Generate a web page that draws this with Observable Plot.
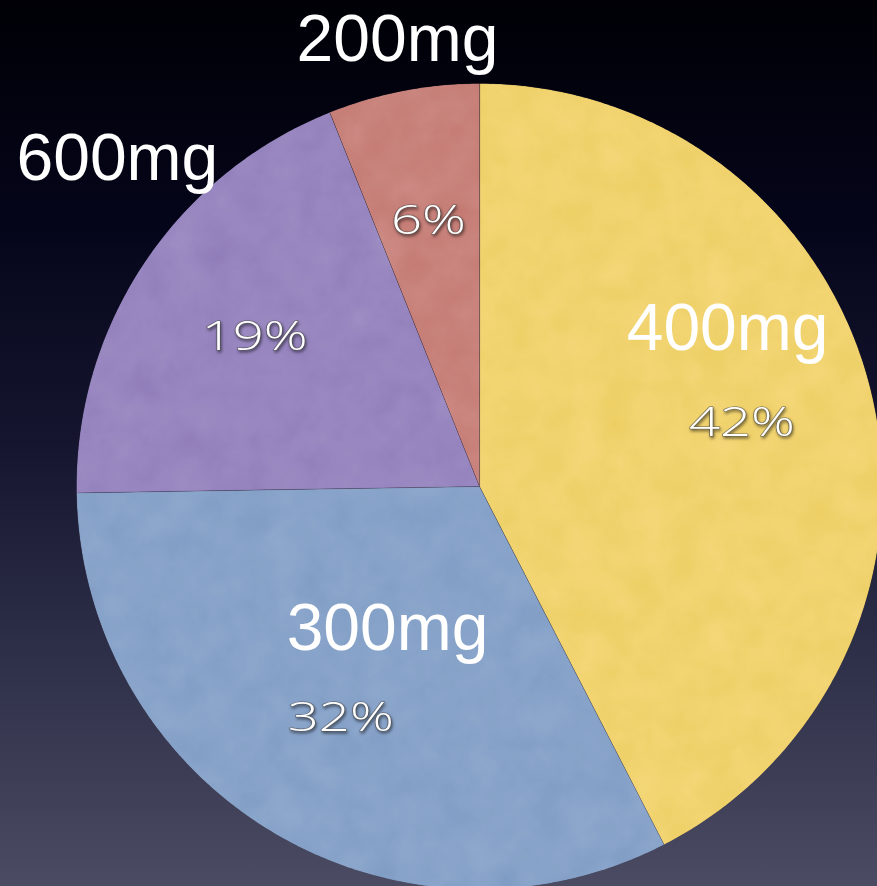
<!DOCTYPE html>
<html>
<head>
<meta charset="utf-8">
<script src="https://cdn.jsdelivr.net/npm/d3@7"></script>
<script src="https://cdn.jsdelivr.net/npm/@observablehq/plot@0.6"></script>
<style>
  html, body { margin: 0; padding: 0; width: 877px; height: 886px; overflow: hidden; }
  body {
    background: linear-gradient(to bottom, #000006 0%, #05051a 25%, #15152f 50%, #2f3049 75%, #4b4c63 100%);
  }
  #chart svg { display: block; background: transparent; }
</style>
</head>
<body>
<div id="chart"></div>
<script>
// Dose shares, clockwise from 12 o'clock
const doses = ["400mg", "300mg", "600mg", "200mg"];
const shares = [42, 32, 19, 6];
const sliceColors = ["#f1d36f", "#88a3c9", "#9786bf", "#c8827b"];

// Where each dose name sits: angle (deg, clockwise from top) and radius as a fraction of the pie radius
const nameAngles = [57.5, 212.9, 312.1, 349.6];
const nameRadii = [0.73, 0.42, 1.211, 1.127];

// Frame: pie centre and radius in pixels
const W = 877, H = 886, CX = 479, CY = 486, R = 403;

const pie = d3.pie().sort(null).value((d) => d.share);
const arcs = pie(doses.map((dose, i) => ({dose, share: shares[i]})));

// Outline of each slice: centre, then points along the arc
const outline = arcs.flatMap((a) => {
  const n = Math.max(2, Math.ceil((a.endAngle - a.startAngle) / (Math.PI / 360)));
  const pts = [{dose: a.data.dose, x: 0, y: 0}];
  for (let k = 0; k <= n; ++k) {
    const t = a.startAngle + (a.endAngle - a.startAngle) * k / n;
    pts.push({dose: a.data.dose, x: Math.sin(t), y: Math.cos(t)});
  }
  return pts;
});

const pctLabels = arcs.map((a) => {
  const m = (a.startAngle + a.endAngle) / 2;
  return {label: `${a.data.share}%`, x: 0.67 * Math.sin(m), y: 0.67 * Math.cos(m)};
});

const nameLabels = doses.map((dose, i) => {
  const t = nameAngles[i] * Math.PI / 180;
  return {label: dose, x: nameRadii[i] * Math.sin(t), y: nameRadii[i] * Math.cos(t)};
});

const chart = Plot.plot({
  width: W,
  height: H,
  margin: 0,
  style: {background: "transparent", overflow: "visible"},
  x: {domain: [-CX / R, (W - CX) / R], axis: null},
  y: {domain: [-(H - CY) / R, CY / R], axis: null},
  color: {domain: doses, range: sliceColors},
  marks: [
    Plot.line(outline, {
      x: "x", y: "y", z: "dose", fill: "dose",
      stroke: "#3a3040", strokeOpacity: 0.22, strokeWidth: 1,
      curve: "linear-closed"
    }),
    Plot.text(pctLabels, {
      x: "x", y: "y", text: "label",
      fill: "white", stroke: "#505050", strokeOpacity: 0.6, strokeWidth: 1.4,
      fontSize: 40, fontWeight: 300, fontFamily: "Open Sans, DejaVu Sans, sans-serif"
    }),
    Plot.text(nameLabels, {
      x: "x", y: "y", text: "label",
      fill: "white", fontSize: 66,
      fontFamily: "Liberation Sans, Arial, Helvetica, sans-serif"
    })
  ]
});

// Paper-like mottling on the slices and a soft shadow under the percentages
const svg = d3.select(chart);
const defs = svg.insert("defs", ":first-child");
const f = defs.append("filter").attr("id", "paper").attr("x", 0).attr("y", 0).attr("width", 1).attr("height", 1);
f.append("feTurbulence").attr("type", "fractalNoise").attr("baseFrequency", 0.03)
  .attr("numOctaves", 4).attr("seed", 7).attr("result", "noise");
f.append("feColorMatrix").attr("in", "noise").attr("type", "matrix")
  .attr("values", "0.33 0.33 0.33 0 0  0.33 0.33 0.33 0 0  0.33 0.33 0.33 0 0  0 0 0 0 1").attr("result", "gray");
f.append("feComposite").attr("in", "SourceGraphic").attr("in2", "gray").attr("operator", "arithmetic")
  .attr("k1", 0).attr("k2", 1).attr("k3", 0.12).attr("k4", -0.06).attr("result", "tex");
f.append("feComposite").attr("in", "tex").attr("in2", "SourceGraphic").attr("operator", "in");

const groups = svg.selectAll(":scope > g");
groups.filter((d, i) => i === 0).attr("filter", "url(#paper)");
const pctGroup = groups.filter((d, i) => i === 1)
  .style("filter", "drop-shadow(1px 2px 1.5px rgba(0,0,0,0.55))");

document.getElementById("chart").append(chart);

// The percentage face is drawn wide: stretch each label horizontally
pctGroup.selectAll("text").each(function () {
  const w = this.getComputedTextLength();
  this.setAttribute("textLength", w * 1.36);
  this.setAttribute("lengthAdjust", "spacingAndGlyphs");
});
</script>
</body>
</html>
